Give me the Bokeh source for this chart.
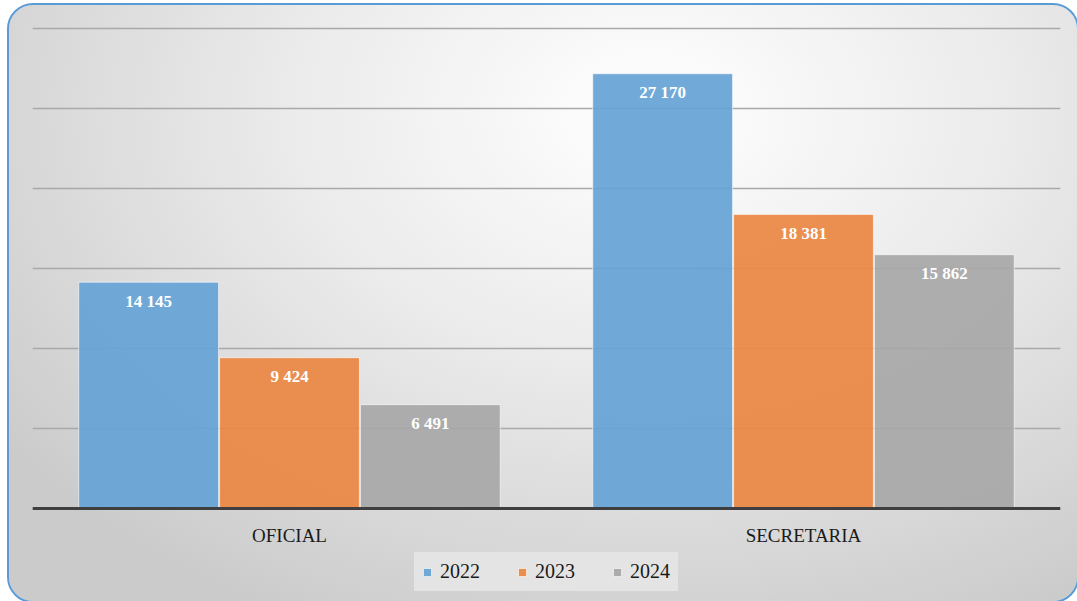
from bokeh.plotting import figure
from bokeh.models import ColumnDataSource, FactorRange, Range1d, FixedTicker, Legend, LegendItem
from bokeh.transform import dodge
from bokeh.core.properties import value
from bokeh.embed import file_html
from bokeh.resources import INLINE

categories = ["OFICIAL", "SECRETARIA"]
years = ["2022", "2023", "2024"]
v2022 = [14145, 27170]
v2023 = [9424, 18381]
v2024 = [6491, 15862]
y_ticks = [0, 5000, 10000, 15000, 20000, 25000, 30000]

colors = ["#66a2d6", "#ea8844", "#a8a8a8"]
offsets = [-0.274, 0.0, 0.274]
SERIF = "'Liberation Serif', 'Times New Roman', serif"

def fmt(v):
    return f"{v:,}".replace(",", " ")

data = {"cat": categories}
for yr, vals in zip(years, [v2022, v2023, v2024]):
    data[yr] = vals
    data["lbl" + yr] = [fmt(v) for v in vals]
src = ColumnDataSource(data)

# frame: top at page y=18, 30000 at page y=28, baseline (0) at page y=508, bottom at page y=601
px_per_unit = 480 / 30000
y_min = -(601 - 508) / px_per_unit
y_max = 30000 + (28 - 18) / px_per_unit

p = figure(width=1068, height=596,
           x_range=FactorRange(*categories, range_padding=0),
           y_range=Range1d(y_min, y_max),
           output_backend="svg", toolbar_location=None,
           min_border_left=23, min_border_right=17,
           min_border_top=13, min_border_bottom=0)
p.margin = (5, 0, 0, 9)
p.border_fill_alpha = 0
p.background_fill_alpha = 0
p.outline_line_color = None
p.styles = {
    "background": "radial-gradient(ellipse 75% 95% at 60% 18%, #ffffff 0%, #ebebeb 45%, #cbcbcb 100%)",
    "border-radius": "24px",
    "outline": "2px solid #5b9bd5",
}

p.yaxis.visible = False
p.xgrid.visible = False
p.ygrid.ticker = FixedTicker(ticks=y_ticks)
p.ygrid.grid_line_color = "#a9a9a9"
p.ygrid.grid_line_width = 1.5

xa = p.xaxis[0]
xa.fixed_location = 0
xa.axis_line_color = "#3f3f3f"
xa.axis_line_width = 3
xa.major_tick_line_color = None
xa.minor_tick_line_color = None
xa.major_label_text_font = SERIF
xa.major_label_text_font_size = "19px"
xa.major_label_text_color = "#1a1a1a"
xa.major_label_standoff = 10

items = []
for yr, col, off in zip(years, colors, offsets):
    r = p.vbar(x=dodge("cat", off, range=p.x_range), top=yr, width=0.272, source=src,
               fill_color=col, fill_alpha=0.93, line_color="white", line_alpha=0.6, line_width=1)
    items.append(LegendItem(label=yr, renderers=[r]))
    p.text(x=dodge("cat", off, range=p.x_range), y=yr, text="lbl" + yr, source=src,
           text_align="center", text_baseline="middle", y_offset=19,
           text_color="white", text_font=value(SERIF),
           text_font_style="bold", text_font_size="17px")

legend = Legend(items=items, orientation="horizontal", location="bottom_center",
                glyph_width=10, glyph_height=10, label_standoff=8, spacing=37,
                padding=8, margin=10,
                label_text_font=SERIF, label_text_font_size="20px",
                label_text_color="#1a1a1a", label_height=20,
                background_fill_color="#e6e6e6", background_fill_alpha=0.9,
                border_line_alpha=0)
p.add_layout(legend, "center")

open("out.html", "w").write(file_html(p, INLINE))
